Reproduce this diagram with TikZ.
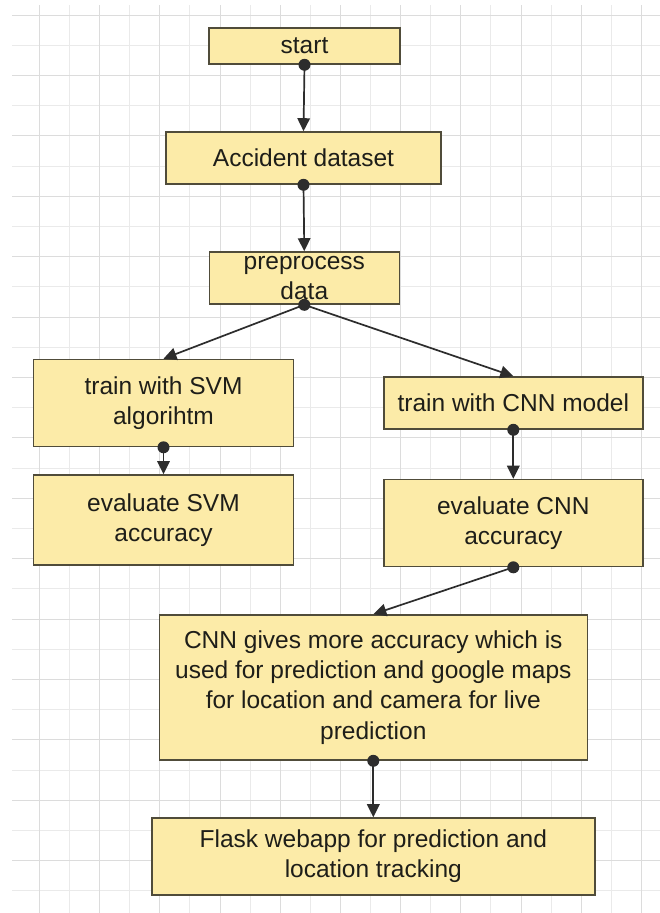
\documentclass[tikz,border=0pt]{standalone}
\usepackage{fontspec}
\setmainfont{Liberation Sans}
\usetikzlibrary{arrows.meta}
\definecolor{boxfill}{RGB}{252,235,168}
\definecolor{boxdraw}{RGB}{80,76,58}
\definecolor{linec}{RGB}{45,45,45}
\definecolor{txt}{RGB}{30,30,25}
\definecolor{gridminor}{RGB}{234,234,234}
\definecolor{gridmajor}{RGB}{220,220,220}
\begin{document}
\begin{tikzpicture}[x=1pt,y=-1pt,
  box/.style={draw=boxdraw, fill=boxfill, line width=1.6pt, inner sep=0pt, align=center, text=txt, font=\fontsize{24.5}{30.2}\selectfont},
  conn/.style={draw=linec, line width=1.7pt, -{Triangle[length=13pt,width=12.5pt]}},
  dotc/.style={circle, fill=linec, inner sep=0pt, minimum size=12pt}]
\useasboundingbox (0,0) rectangle (660,913);
\fill[white] (0,0) rectangle (660,913);
% grid
\foreach \k [evaluate=\k as \yy using 15+30.2*\k] in {1,3,...,29} {\draw[gridminor, line width=1pt] (12,\yy) -- (660,\yy);}
\foreach \k [evaluate=\k as \xx using 9.3+30.1*\k] in {2,4,...,20} {\draw[gridminor, line width=1pt] (\xx,5) -- (\xx,913);}
\foreach \k [evaluate=\k as \yy using 15+30.2*\k] in {0,2,...,28} {\draw[gridmajor, line width=1pt] (12,\yy) -- (660,\yy);}
\foreach \k [evaluate=\k as \xx using 9.3+30.1*\k] in {1,3,...,21} {\draw[gridmajor, line width=1pt] (\xx,5) -- (\xx,913);}
% nodes
\node[box, minimum width=191pt, minimum height=36pt] (start) at (304.5,46) {start};
\node[box, minimum width=275pt, minimum height=52pt] (acc) at (303.5,158) {Accident dataset};
\node[box, minimum width=190pt, minimum height=52pt] (pre) at (304.3,278) {preprocess\\data};
\node[box, minimum width=260pt, minimum height=87pt] (svmt) at (163.5,403) {train with SVM\\algorihtm};
\node[box, minimum width=260pt, minimum height=90pt] (svme) at (163.5,520) {evaluate SVM\\accuracy};
\node[box, minimum width=259pt, minimum height=52pt] (cnnt) at (513.3,403) {train with CNN model};
\node[box, minimum width=259pt, minimum height=87pt] (cnne) at (513.3,523) {evaluate CNN\\accuracy};
\node[box, minimum width=428pt, minimum height=145pt] (res) at (373.3,687.5) {CNN gives more accuracy which is\\used for prediction and google maps\\for location and camera for live\\prediction};
\node[box, minimum width=443pt, minimum height=77pt] (flask) at (373.3,856.5) {Flask webapp for prediction and\\location tracking};
% connectors
\draw[conn] (start.south) -- (acc.north);
\draw[conn] (acc.south) -- (pre.north);
\draw[conn] (pre.south) -- (svmt.north);
\draw[conn] (pre.south) -- (cnnt.north);
\draw[conn] (svmt.south) -- (svme.north);
\draw[conn] (cnnt.south) -- (cnne.north);
\draw[conn] (cnne.south) -- (res.north);
\draw[conn] (res.south) -- (flask.north);
\foreach \n in {start,acc,pre,svmt,cnnt,cnne,res} {\node[dotc] (dot-\n) at (\n.south) {};}
\end{tikzpicture}
\end{document}
